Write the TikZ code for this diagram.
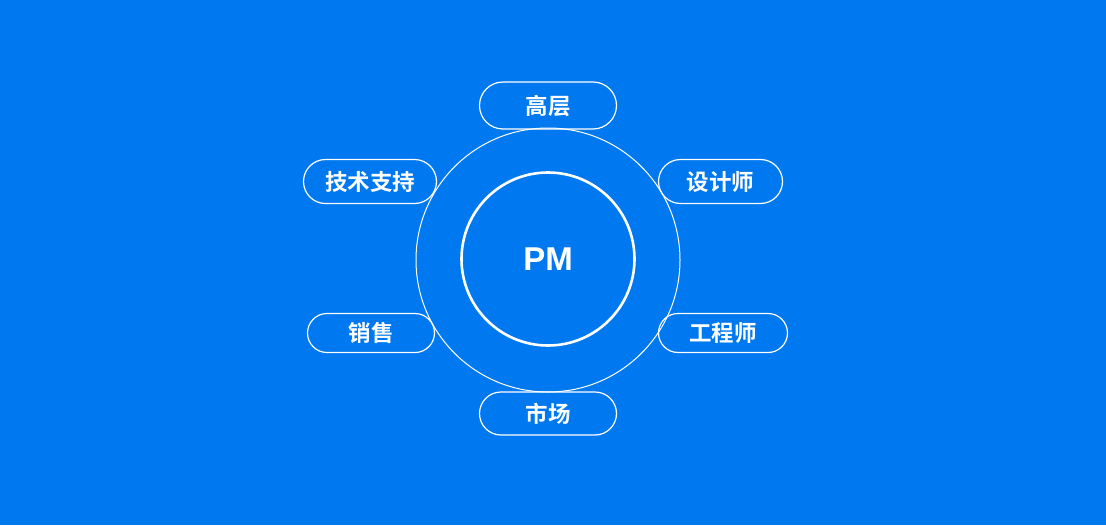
\documentclass[tikz,border=0pt]{standalone}
\usepackage{fontspec}
\setmainfont{Liberation Sans}
\newfontfamily\cjkbold{Noto Sans CJK SC Bold}
\usepackage{xcolor}
\usetikzlibrary{shapes.misc}
\definecolor{pmblue}{HTML}{0079F0}
\tikzset{
  pmring/.style   = {circle, draw=white, line width=1pt, minimum size=264pt, inner sep=0pt},
  pmcore/.style   = {circle, draw=white, line width=2.6pt, minimum size=173pt, inner sep=0pt,
                     text=white, font=\fontsize{33}{33}\selectfont\bfseries},
  pmrole/.style   = {rounded rectangle, draw=white, line width=1.2pt, inner sep=0pt,
                     text=white, font=\fontsize{22.5}{22.5}\cjkbold},
}

\begin{document}
\begin{tikzpicture}[x=1pt,y=-1pt]
  \fill[pmblue] (0,0) rectangle (1106,525);
  \useasboundingbox (0,0) rectangle (1106,525);

  \node[pmring] (ring) at (548,260) {};
  \node[pmcore] (pm)   at (548,259) {PM};

  \node[pmrole, minimum width=137pt, minimum height=47pt] (boss)  at (548,105.5) {高层};
  \node[pmrole, minimum width=133pt, minimum height=44pt] (tech)  at (370,181.5) {技术支持};
  \node[pmrole, minimum width=124pt, minimum height=44pt] (ux)    at (720.5,181.5) {设计师};
  \node[pmrole, minimum width=127pt, minimum height=39pt] (sales) at (371,333) {销售};
  \node[pmrole, minimum width=129pt, minimum height=39pt] (eng)   at (723,333) {工程师};
  \node[pmrole, minimum width=137pt, minimum height=43pt] (mkt)   at (548,413.5) {市场};
\end{tikzpicture}
\end{document}
